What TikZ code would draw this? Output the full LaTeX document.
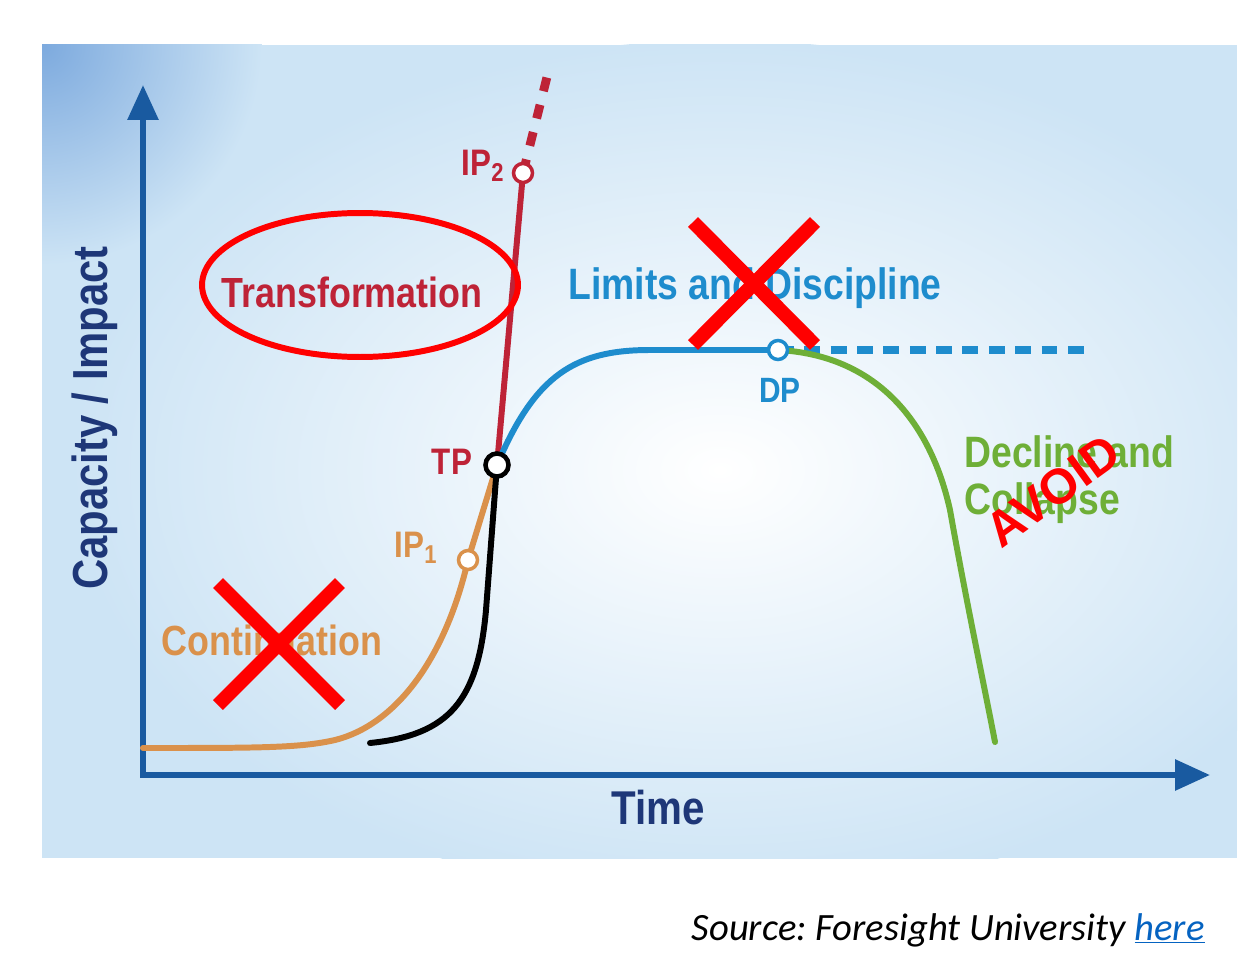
\documentclass[tikz,border=0pt]{standalone}
\usepackage{fontspec}
\usepackage{xcolor}
\usetikzlibrary{arrows.meta}
\setmainfont{Carlito}
\newfontfamily\condFont[FakeStretch=0.85]{Liberation Sans}
\newfontfamily\wideFont{Liberation Sans}
\definecolor{panelBlue}{RGB}{205,228,245}
\definecolor{cornerBlue}{RGB}{125,170,222}
\definecolor{axisBlue}{RGB}{25,90,160}
\definecolor{axisNavy}{RGB}{30,55,120}
\definecolor{tpRed}{RGB}{190,35,55}
\definecolor{contOrange}{RGB}{218,145,75}
\definecolor{limitBlue}{RGB}{30,140,205}
\definecolor{declGreen}{RGB}{110,175,55}
\definecolor{markRed}{RGB}{255,0,0}
\definecolor{linkBlue}{RGB}{5,99,193}
\newcommand{\LblSize}[1]{\fontsize{#1}{#1}\selectfont}
\frenchspacing

\begin{document}
\begin{tikzpicture}[x=0.02cm,y=-0.02cm,
  lbl/.style={font=\condFont\bfseries\LblSize{24}, inner sep=0pt},
  curve/.style={line width=3.4pt, line cap=round},
  pt/.style={circle, draw, fill=white, line width=2pt, minimum size=0.38cm, inner sep=0pt},
  cross/.style={draw=markRed, line width=8pt}]
\useasboundingbox (0,0) rectangle (1253,966);
% panel
\fill[panelBlue] (42,45) rectangle (1237,858);
\begin{scope}
\clip (42,45) rectangle (1237,858);
\shade[inner color=cornerBlue, outer color=panelBlue] (42,45) circle [radius=4.4cm];
\shade[inner color=white, outer color=panelBlue] (720,470) ellipse [x radius=13cm, y radius=8.6cm];
\end{scope}
% axes
\coordinate (origin) at (143,775);
\coordinate (yTip) at (143,85);
\coordinate (xTip) at (1210,775);
\draw[axisBlue, line width=3.4pt, {Triangle[length=0.7cm,width=0.6cm]}-{Triangle[length=0.7cm,width=0.6cm]}]
  (yTip) -- (origin) -- (xTip);
\node[lbl, axisNavy, font=\condFont\bfseries\LblSize{28}, rotate=90] (capLbl) at (95,418) {Capacity / Impact};
\node[lbl, axisNavy, font=\condFont\bfseries\LblSize{27}] (timeLbl) at (658,808) {Time};
% key points
\coordinate (tp) at (497,465);
\coordinate (ip1) at (468,560);
\coordinate (ip2) at (523,173);
\coordinate (dp) at (778,350);
\coordinate (contStart) at (143,748);
\coordinate (blackStart) at (370,743);
\coordinate (redEnd) at (550,65);
\coordinate (dashEnd) at (1085,350);
\coordinate (greenEnd) at (995,742);
% curves
\draw[curve, contOrange] (contStart) .. controls (260,748) and (300,748) .. (335,740)
  .. controls (395,725) and (445,660) .. (ip1) -- (tp);
\draw[curve, black] (blackStart) .. controls (450,735) and (478,700) .. (486,610) -- (tp);
\draw[curve, tpRed] (tp) -- (ip2);
\draw[tpRed, line width=5pt, dash pattern=on 8pt off 8pt] (ip2) -- (redEnd);
\draw[curve, limitBlue] (tp) .. controls (535,375) and (575,350) .. (650,350) -- (dp);
\draw[limitBlue, line width=4pt, dash pattern=on 9pt off 6pt] (dp) -- (dashEnd);
\draw[curve, declGreen] (dp) .. controls (875,355) and (930,420) .. (950,510)
  .. controls (966,600) and (985,690) .. (greenEnd);
\node[pt, draw=tpRed] (ip2Dot) at (ip2) {};
\node[pt, draw=contOrange] (ip1Dot) at (ip1) {};
\node[pt, draw=limitBlue] (dpDot) at (dp) {};
\node[pt, draw=black, line width=2.6pt, minimum size=0.46cm] (tpDot) at (tp) {};
% labels
\node[lbl, tpRed, font=\condFont\bfseries\LblSize{21}] (ip2Lbl) at (483,166) {IP\textsubscript{2}};
\node[lbl, tpRed, font=\condFont\bfseries\LblSize{21}] (tpLbl) at (452,462) {TP};
\node[lbl, contOrange, font=\condFont\bfseries\LblSize{21}] (ip1Lbl) at (416,548) {IP\textsubscript{1}};
\node[lbl, limitBlue, font=\condFont\bfseries\LblSize{20}] (dpLbl) at (780,390) {DP};
\node[lbl, tpRed] (transLbl) at (352,292) {Transformation};
\node[lbl, limitBlue, font=\condFont\bfseries\LblSize{25}] (limitLbl) at (755,288) {Limits and Discipline};
\node[lbl, contOrange] (contLbl) at (272,640) {Continuation};
\node[lbl, declGreen, anchor=north west, align=left, font=\condFont\bfseries\fontsize{25}{27}\selectfont] (declLbl) at (964,435) {Decline and\\Collapse};
% annotations
\draw[markRed, line width=3.4pt] (360,285) ellipse [x radius=3.16cm, y radius=1.44cm];
\draw[cross] (218,583) -- (340,705) (340,583) -- (218,705);
\draw[cross] (693,222) -- (815,345) (815,222) -- (693,345);
\node[markRed, font=\wideFont\bfseries\LblSize{28}, rotate=36, inner sep=0pt] (avoidLbl) at (1053,491) {AVOID};
% source
\node[anchor=base east, font=\itshape\LblSize{22}, inner sep=0pt] (srcLbl) at (1205,940)
  {Source: Foresight University {\color{linkBlue}\underline{here}}};
\end{tikzpicture}
\end{document}
